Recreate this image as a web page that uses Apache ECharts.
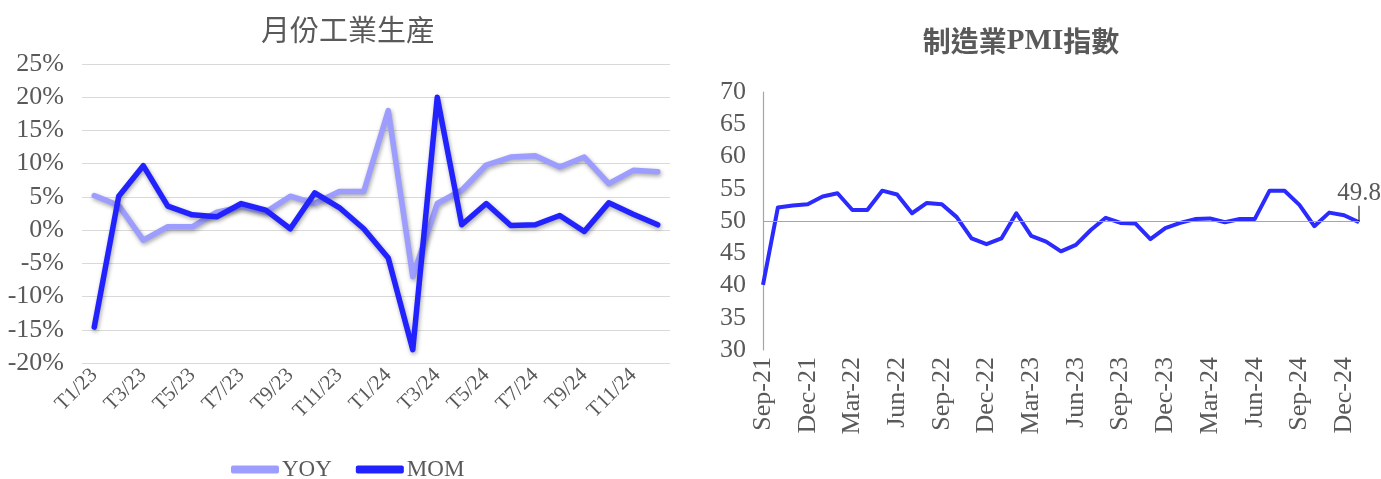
<!DOCTYPE html>
<html>
<head>
<meta charset="utf-8">
<script src="https://cdn.jsdelivr.net/npm/echarts@6/dist/echarts.min.js"></script>
<style>
html,body{margin:0;padding:0;background:#fff;}
#main{width:1381px;height:479px;}
</style>
</head>
<body>
<div id="main"></div>
<script>
// ---- Left chart data: monthly industrial production ----
var ipCategories = ['T1/23','T2/23','T3/23','T4/23','T5/23','T6/23','T7/23','T8/23','T9/23','T10/23','T11/23','T12/23',
                    'T1/24','T2/24','T3/24','T4/24','T5/24','T6/24','T7/24','T8/24','T9/24','T10/24','T11/24','T12/24'];
var yoyValues = [5.2, 3.7, -1.5, 0.5, 0.5, 2.7, 3.5, 2.7, 5.1, 4.0, 5.8, 5.8,
                 18.0, -7.0, 4.0, 6.0, 9.8, 11.0, 11.2, 9.5, 11.0, 7.0, 9.0, 8.8];
var momValues = [-14.6, 5.1, 9.7, 3.6, 2.3, 2.0, 4.0, 3.0, 0.2, 5.6, 3.4, 0.2,
                 -4.2, -18.0, 20.0, 0.8, 4.0, 0.7, 0.8, 2.2, -0.2, 4.1, 2.4, 0.8];

// ---- Right chart data: manufacturing PMI ----
var pmiCategories = ['Sep-21','Oct-21','Nov-21','Dec-21','Jan-22','Feb-22','Mar-22','Apr-22','May-22','Jun-22','Jul-22','Aug-22',
                     'Sep-22','Oct-22','Nov-22','Dec-22','Jan-23','Feb-23','Mar-23','Apr-23','May-23','Jun-23','Jul-23','Aug-23',
                     'Sep-23','Oct-23','Nov-23','Dec-23','Jan-24','Feb-24','Mar-24','Apr-24','May-24','Jun-24','Jul-24','Aug-24',
                     'Sep-24','Oct-24','Nov-24','Dec-24','Jan-25'];
var pmiValues = [40.1, 52.1, 52.4, 52.6, 53.8, 54.3, 51.7, 51.7, 54.7, 54.1, 51.2, 52.8,
                 52.6, 50.6, 47.3, 46.4, 47.3, 51.2, 47.7, 46.8, 45.3, 46.3, 48.6, 50.5,
                 49.7, 49.6, 47.2, 48.9, 49.7, 50.3, 50.4, 49.8, 50.3, 50.3, 54.7, 54.7,
                 52.5, 49.2, 51.3, 50.9, 49.8];
var pmiThreshold = 50;

var serif = '"Liberation Serif", "Times New Roman", "Noto Sans CJK TC", serif';
var cjk = '"Noto Sans CJK TC", "Noto Sans CJK SC", sans-serif';
var txt = '#595959';

var pmiData = pmiValues.map(function (v, i) {
  if (i === pmiValues.length - 1) {
    return {
      value: v,
      symbol: 'circle', symbolSize: 1,
      itemStyle: { color: 'rgba(0,0,0,0)' },
      label: { show: true, position: 'top', distance: 2, formatter: '{c}',
               fontFamily: serif, fontSize: 25, color: txt },
      labelLine: { show: true, lineStyle: { color: '#000', width: 1 } }
    };
  }
  return { value: v, symbol: 'none' };
});

var chart = echarts.init(document.getElementById('main'));
chart.setOption({
  animation: false,
  backgroundColor: '#fff',
  title: [
    { text: '月份工業生産', left: 343, top: 10, textAlign: 'center',
      textStyle: { fontFamily: cjk, fontSize: 29, fontWeight: 'normal', color: txt } },
    { text: '{a|制造業}{b|PMI}{a|指數}', left: 1016, top: 22, textAlign: 'center',
      textStyle: { rich: {
        a: { fontFamily: cjk, fontSize: 28, fontWeight: 'bold', color: txt },
        b: { fontFamily: serif, fontSize: 29, fontWeight: 'bold', color: txt }
      } } }
  ],
  legend: {
    data: ['YOY', 'MOM'],
    left: 226, top: 453,
    itemWidth: 48, itemHeight: 8, itemGap: 24,
    icon: 'roundRect',
    textStyle: { fontFamily: serif, fontSize: 23, color: txt, padding: [0, 0, 0, -2] }
  },
  grid: [
    { left: 82, right: 711, top: 64, bottom: 116 },
    { left: 763, right: 22, top: 92, bottom: 129 }
  ],
  xAxis: [
    { type: 'category', gridIndex: 0, data: ipCategories, boundaryGap: true,
      axisLine: { show: false }, axisTick: { show: false },
      axisLabel: { interval: 1, rotate: 45, margin: 9, fontFamily: serif, fontSize: 21, color: txt } },
    { type: 'category', gridIndex: 1, data: pmiCategories, boundaryGap: false,
      axisLine: { show: false }, axisTick: { show: false },
      axisLabel: { interval: 2, rotate: 90, margin: 7, fontFamily: serif, fontSize: 26, color: txt } }
  ],
  yAxis: [
    { type: 'value', gridIndex: 0, min: -20, max: 25, interval: 5,
      axisLine: { show: false }, axisTick: { show: false },
      splitLine: { lineStyle: { color: '#d9d9d9', width: 1.2 } },
      axisLabel: { formatter: '{value}%', margin: 18, fontFamily: serif, fontSize: 26, color: txt } },
    { type: 'value', gridIndex: 1, min: 30, max: 70, interval: 5,
      axisLine: { show: true, lineStyle: { color: '#a6a6a6', width: 1.2 } }, axisTick: { show: false },
      splitLine: { show: false },
      axisLabel: { margin: 17, fontFamily: serif, fontSize: 26, color: txt } }
  ],
  series: [
    { name: 'YOY', type: 'line', xAxisIndex: 0, yAxisIndex: 0, data: yoyValues,
      symbol: 'none', color: '#9d9dff',
      lineStyle: { width: 5.5, color: '#9d9dff', cap: 'round', join: 'round',
                   shadowBlur: 4, shadowColor: 'rgba(0,0,0,0.35)', shadowOffsetX: 1, shadowOffsetY: 2 },
      z: 2 },
    { name: 'MOM', type: 'line', xAxisIndex: 0, yAxisIndex: 0, data: momValues,
      symbol: 'none', color: '#2222ff',
      lineStyle: { width: 5.5, color: '#2222ff', cap: 'round', join: 'round',
                   shadowBlur: 4, shadowColor: 'rgba(0,0,0,0.35)', shadowOffsetX: 1, shadowOffsetY: 2 },
      z: 3 },
    { name: 'PMI', type: 'line', xAxisIndex: 1, yAxisIndex: 1, data: pmiData,
      showSymbol: true, color: '#2b2bff',
      lineStyle: { width: 4, color: '#2b2bff', join: 'round' },
      labelLayout: { dy: -14 },
      markLine: { silent: true, symbol: 'none', label: { show: false },
                  lineStyle: { color: '#a6a6a6', width: 1.2, type: 'solid' },
                  data: [{ yAxis: pmiThreshold }] },
      z: 3 }
  ]
});
</script>
</body>
</html>
